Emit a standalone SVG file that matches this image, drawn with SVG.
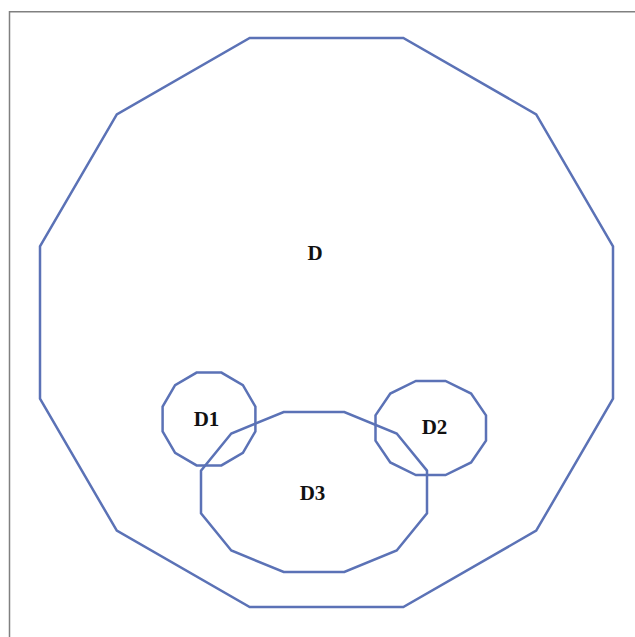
<svg xmlns="http://www.w3.org/2000/svg" width="635" height="637" viewBox="0 0 635 637">
<style>
.frame{fill:none;stroke:#808080;stroke-width:1.5}
.region{fill:none;stroke:#5b72b6;stroke-width:2.5;stroke-linejoin:miter}
.lbl{font-family:"Liberation Serif","Times New Roman",serif;font-weight:bold;font-size:21px;fill:#111;text-anchor:middle}
</style>
<rect x="0" y="0" width="635" height="637" fill="#ffffff"/>
<path class="frame" d="M9.5,637 V11.75 H635"/>
<g id="D">
<polygon class="region" points="613,246.3 536.2,114.3 403.3,38 249.7,38 116.8,114.3 40,246.3 40,398.7 116.8,530.7 249.7,607 403.3,607 536.2,530.7 613,398.7"/>
<text class="lbl" x="315" y="260">D</text>
</g>
<g id="D3">
<polygon class="region" points="427,470.6 396.7,433.5 344.3,412 283.7,412 231.3,433.5 201,470.6 201,513.4 231.3,550.5 283.7,572 344.3,572 396.7,550.5 427,513.4"/>
<text class="lbl" x="312.5" y="500">D3</text>
</g>
<g id="D1">
<polygon class="region" points="255.4,406.6 242.9,385.1 221.4,372.6 196.6,372.6 175.1,385.1 162.6,406.6 162.6,431.4 175.1,452.9 196.6,465.4 221.4,465.4 242.9,452.9 255.4,431.4"/>
<text class="lbl" x="206.5" y="426">D1</text>
</g>
<g id="D2">
<polygon class="region" points="486,415.4 471.1,393.6 445.5,381 415.9,381 390.3,393.6 375.5,415.4 375.5,440.6 390.3,462.4 415.9,475 445.5,475 471.1,462.4 486,440.6"/>
<text class="lbl" x="434.5" y="434">D2</text>
</g>
<g id="connectors"></g>
</svg>
